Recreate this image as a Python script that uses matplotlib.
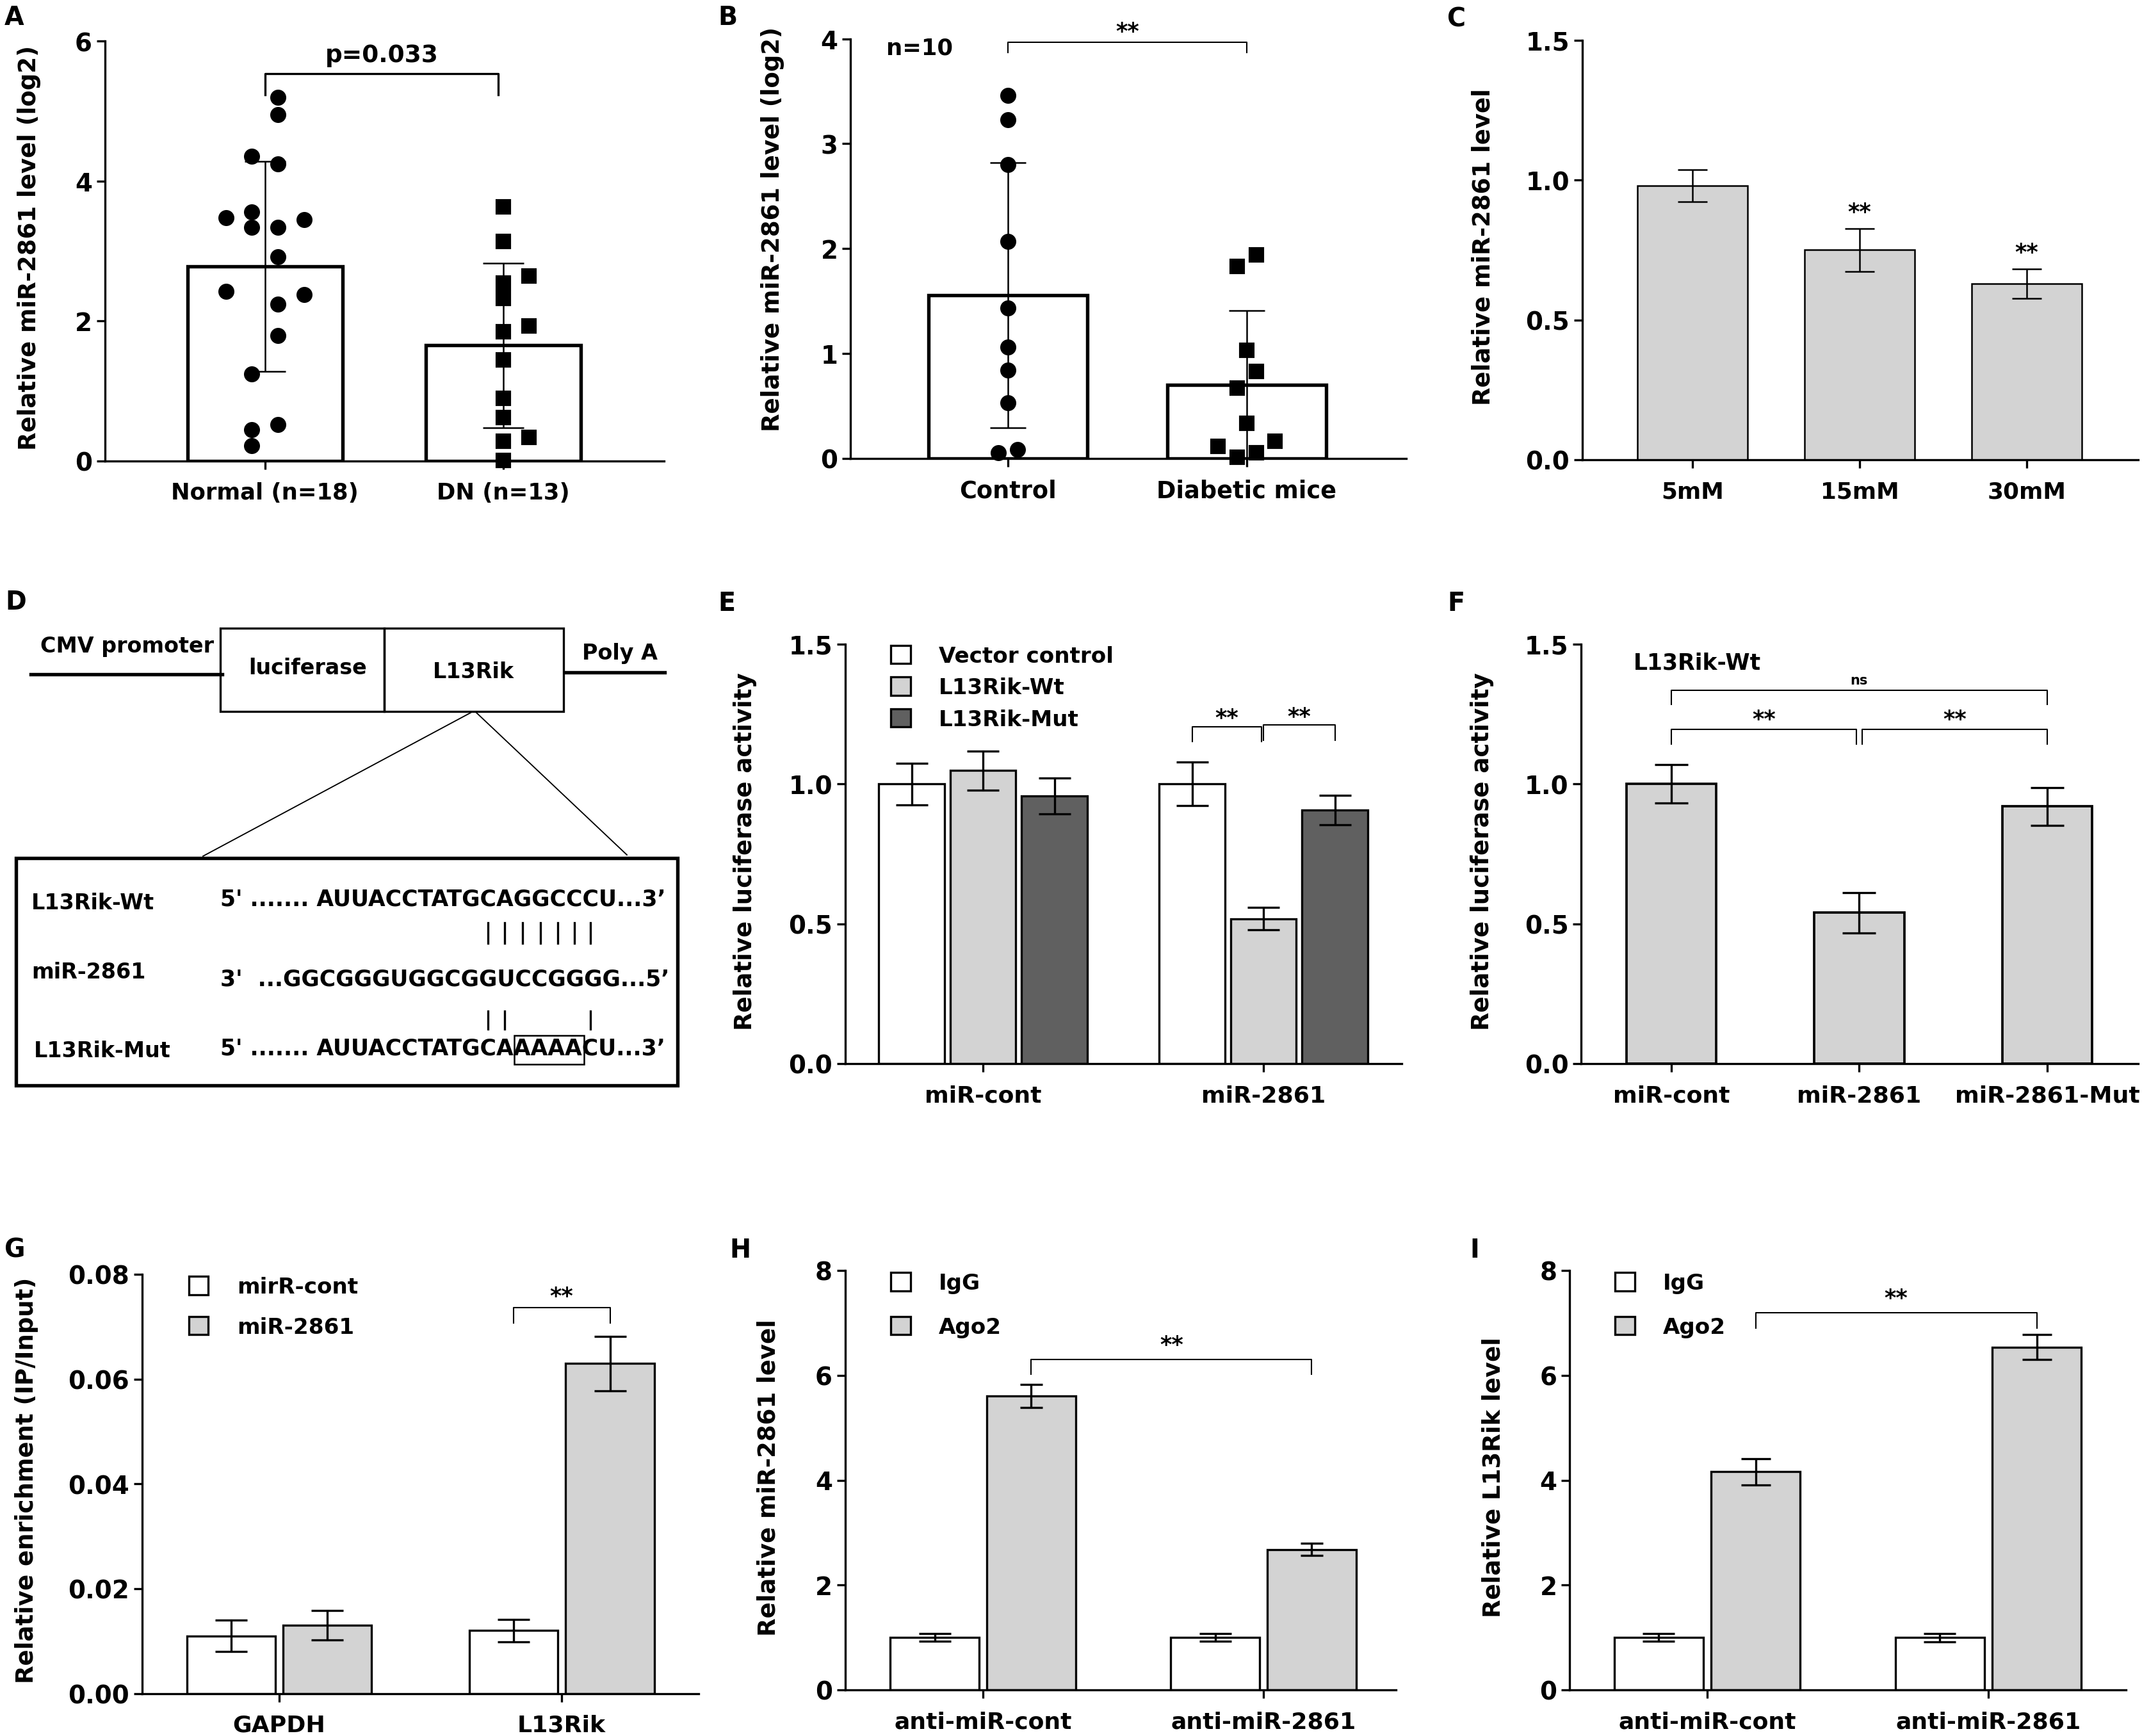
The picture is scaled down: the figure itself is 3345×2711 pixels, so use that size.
import matplotlib
matplotlib.use("Agg")
import matplotlib.pyplot as plt
from matplotlib.patches import Rectangle, Patch
from matplotlib.font_manager import FontProperties

plt.rcParams['font.family'] = ['DejaVu Sans']
plt.rcParams['font.weight'] = 'bold'
plt.rcParams['axes.labelweight'] = 'bold'

# ---------------- data ----------------
# A - patients
a_groups = ["Normal (n=18)", "DN (n=13)"]
a_mean = [2.78, 1.65]
a_sd = [1.50, 1.18]
a_normal = [5.20, 4.95, 4.36, 4.25, 3.48, 3.56, 3.45, 3.34, 3.34,
            2.92, 2.42, 2.38, 2.24, 1.79, 1.24, 0.45, 0.52, 0.22]
a_normal_jit = [0.055, 0.055, -0.055, 0.055, -0.164, -0.055, 0.164, -0.055, 0.055,
                0.055, -0.164, 0.164, 0.055, 0.055, -0.055, -0.055, 0.055, -0.055]
a_dn = [3.63, 3.14, 2.64, 2.54, 2.32, 1.93, 1.85, 1.44, 0.89, 0.62, 0.34, 0.28, 0.01]
a_dn_jit = [0, 0, 0.109, 0, 0, 0.109, 0, 0, 0, 0, 0.109, 0, 0]

# B - mice
b_groups = ["Control", "Diabetic mice"]
b_mean = [1.555, 0.70]
b_sd = [1.265, 0.71]
b_control = [3.46, 3.23, 2.80, 2.07, 1.43, 1.06, 0.84, 0.53, 0.05, 0.08]
b_control_jit = [0, 0, 0, 0, 0, 0, 0, 0, -0.041, 0.04]
b_diab = [1.94, 1.83, 1.03, 0.83, 0.67, 0.33, 0.16, 0.11, 0.05, 0.01]
b_diab_jit = [0.04, -0.041, 0, 0.04, -0.041, 0, 0.119, -0.12, 0.04, -0.041]

# C - glucose
c_groups = ["5mM", "15mM", "30mM"]
c_mean = [0.98, 0.75, 0.63]
c_sd = [0.058, 0.076, 0.052]

# E - luciferase
e_groups = ["miR-cont", "miR-2861"]
e_series = ["Vector control", "L13Rik-Wt", "L13Rik-Mut"]
e_vector = [1.0, 1.0]
e_vector_sd = [0.075, 0.078]
e_wt = [1.048, 0.518]
e_wt_sd = [0.07, 0.04]
e_mut = [0.958, 0.907]
e_mut_sd = [0.064, 0.053]

# F
f_groups = ["miR-cont", "miR-2861", "miR-2861-Mut"]
f_mean = [1.0, 0.54, 0.92]
f_sd = [0.069, 0.072, 0.068]

# G - RIP
g_groups = ["GAPDH", "L13Rik"]
g_series = ["mirR-cont", "miR-2861"]
g_cont = [0.011, 0.012]
g_cont_sd = [0.003, 0.0021]
g_mir = [0.013, 0.063]
g_mir_sd = [0.0028, 0.0052]

# H / I - Ago2
hi_groups = ["anti-miR-cont", "anti-miR-2861"]
hi_series = ["IgG", "Ago2"]
h_igg = [1.0, 1.0]
h_igg_sd = [0.075, 0.075]
h_ago = [5.61, 2.68]
h_ago_sd = [0.22, 0.12]
i_igg = [1.0, 1.0]
i_igg_sd = [0.076, 0.078]
i_ago = [4.16, 6.54]
i_ago_sd = [0.255, 0.235]

# D - construct
wt_label, mir_label, mut_label = "L13Rik-Wt", "miR-2861", "L13Rik-Mut"
wt_core = "AUUACCTATGCAGGCCCU"
mut_core = "AUUACCTATGCAAAAACU"
seq_head = "5' ....... "
seq_tail = "...3\u2019"
mir_seq = "3'  ...GGCGGGUGGCGGUCCGGGG...5\u2019"
wt_pairs = [10, 11, 12, 13, 14, 15, 16]
mut_pairs = [10, 11, 16]
mut_box = (12, 16)

LGRAY = '#d3d3d3'
DGRAY = '#606060'

W, H = 3345, 2712
fig = plt.figure(figsize=(W / 300, H / 300), dpi=300)

# overlay for panel D and panel letters (pixel coords, y down)
ov = fig.add_axes([0, 0, 1, 1])
ov.set_xlim(0, W)
ov.set_ylim(H, 0)
ov.axis('off')
ov.patch.set_visible(False)


def add_ax(x0, x1, ytop, ybot):
    return fig.add_axes([x0 / W, 1 - ybot / H, (x1 - x0) / W, (ybot - ytop) / H])


def style(ax, xlim, ylim, yticks, ylabel, lab_xy, fmt=None, xfs=8.7):
    ax.set_xlim(*xlim)
    ax.set_ylim(*ylim)
    ax.set_yticks(yticks)
    if fmt:
        ax.set_yticklabels([fmt % t for t in yticks])
    for s in ['top', 'right']:
        ax.spines[s].set_visible(False)
    for s in ['left', 'bottom']:
        ax.spines[s].set_linewidth(0.8)
    ax.tick_params(axis='both', width=0.8, length=3.2)
    ax.tick_params(axis='y', labelsize=9.3, pad=1.5)
    ax.tick_params(axis='x', labelsize=xfs, pad=4.5)
    ax.set_ylabel(ylabel, fontsize=8.9, fontweight='bold', va='center')
    ax.yaxis.set_label_coords(*lab_xy)


def bracket(ax, x0, x1, y, drop0, drop1, txt, ty, fs=8.5, lw=0.5):
    ax.plot([x0, x0, x1, x1], [y - drop0, y, y, y - drop1], color='k', lw=lw, clip_on=False)
    ax.text((x0 + x1) / 2, ty, txt, ha='center', va='center', fontsize=fs)


def errs(ax, x, y, e, cap, lw=0.7):
    ax.errorbar(x, y, yerr=e, fmt='none', ecolor='k', elinewidth=lw, capsize=cap,
                capthick=lw, zorder=3)


def legend(ax, x, y, spacing):
    ax.legend(loc='upper left', bbox_to_anchor=(x, y), frameon=False, fontsize=8.2,
              handlelength=0.9, handleheight=0.9, handletextpad=1.3, labelspacing=spacing,
              borderpad=0, borderaxespad=0)


# ---------------- A ----------------
ax = add_ax(163.5, 1037, 65.4, 720.7)
xa = list(range(len(a_groups)))
ax.bar(xa, a_mean, width=0.65, color='white', edgecolor='k', lw=1.3, zorder=2)
errs(ax, xa, a_mean, a_sd, 7.6, 0.6)
ax.plot([xa[0] + j for j in a_normal_jit], a_normal, 'o', color='k', ms=5, zorder=4, clip_on=False)
ax.plot([xa[1] + j for j in a_dn_jit], a_dn, 's', color='k', ms=4.6, zorder=4, clip_on=False)
ax.set_xticks(xa)
ax.set_xticklabels(a_groups)
style(ax, (-0.673, 1.675), (0, 6), [0, 2, 4, 6], "Relative miR-2861 level (log2)",
      (-0.135, 0.509), xfs=8.5)
bracket(ax, 0, 0.98, 5.537, 0.3, 0.3, "p=0.033", 5.80, fs=9, lw=0.8)

# ---------------- B ----------------
ax = add_ax(1328, 2196, 61.7, 716.5)
xb = list(range(len(b_groups)))
ax.bar(xb, b_mean, width=0.666, color='white', edgecolor='k', lw=1.3, zorder=2)
errs(ax, xb, b_mean, b_sd, 6.8, 0.6)
ax.plot([xb[0] + j for j in b_control_jit], b_control, 'o', color='k', ms=5, zorder=4, clip_on=False)
ax.plot([xb[1] + j for j in b_diab_jit], b_diab, 's', color='k', ms=4.6, zorder=4, clip_on=False)
ax.set_xticks(xb)
ax.set_xticklabels(b_groups)
style(ax, (-0.6595, 1.6676), (0, 4), [0, 1, 2, 3, 4], "Relative miR-2861 level (log2)",
      (-0.140, 0.5475), xfs=8.8)
bracket(ax, 0, 1, 3.968, 0.1, 0.1, "**", 4.07)
ax.text(-0.51, 3.914, "n=10", ha='left', va='center', fontsize=8.5)

# ---------------- C ----------------
ax = add_ax(2470.7, 3339, 63.8, 719)
xc = list(range(len(c_groups)))
ax.bar(xc, c_mean, width=0.661, color=LGRAY, edgecolor='k', lw=0.6, zorder=2)
errs(ax, xc, c_mean, c_sd, 5.6, 0.6)
for x, m, s in zip(xc[1:], c_mean[1:], c_sd[1:]):
    ax.text(x, m + s + 0.06, "**", ha='center', va='center', fontsize=8.5)
ax.set_xticks(xc)
ax.set_xticklabels(c_groups)
style(ax, (-0.660, 2.667), (0, 1.5), [0, 0.5, 1.0, 1.5], "Relative miR-2861 level",
      (-0.178, 0.509), fmt='%.1f', xfs=8.6)

# ---------------- E ----------------
ax = add_ax(1319.6, 2189, 1007, 1662)
xe = list(range(len(e_groups)))
step, bw = 0.2546, 0.234
for k, (vals, sds, col) in enumerate([(e_vector, e_vector_sd, 'white'),
                                      (e_wt, e_wt_sd, LGRAY),
                                      (e_mut, e_mut_sd, DGRAY)]):
    xs = [x + (k - 1) * step for x in xe]
    ax.bar(xs, vals, width=bw, color=col, edgecolor='k', lw=0.8, zorder=2, label=e_series[k])
    errs(ax, xs, vals, sds, 6.0, 0.8)
ax.set_xticks(xe)
ax.set_xticklabels(e_groups)
style(ax, (-0.4918, 1.493), (0, 1.5), [0, 0.5, 1.0, 1.5], "Relative luciferase activity",
      (-0.179, 0.508), fmt='%.1f')
legend(ax, 0.082, 0.997, 0.48)
bracket(ax, 1 - step, 1 - 0.007, 1.2057, 0.053, 0.053, "**", 1.236)
bracket(ax, 1.0, 1 + step, 1.212, 0.055, 0.055, "**", 1.241)

# ---------------- F ----------------
ax = add_ax(2469, 3339, 1007, 1662)
xf = list(range(len(f_groups)))
ax.bar(xf, f_mean, width=0.478, color=LGRAY, edgecolor='k', lw=0.9, zorder=2)
errs(ax, xf, f_mean, f_sd, 6.3, 0.8)
ax.set_xticks(xf)
ax.set_xticklabels(f_groups)
style(ax, (-0.480, 2.484), (0, 1.5), [0, 0.5, 1.0, 1.5], "Relative luciferase activity",
      (-0.178, 0.508), fmt='%.1f')
ax.text(-0.2, 1.434, "L13Rik-Wt", ha='left', va='center', fontsize=8.3)
bracket(ax, 0, 2, 1.3347, 0.05, 0.05, "ns", 1.372, fs=5)
bracket(ax, 0, 0.985, 1.1955, 0.053, 0.053, "**", 1.231)
bracket(ax, 1.015, 2.0, 1.1955, 0.053, 0.053, "**", 1.231)

# ---------------- G ----------------
ax = add_ax(221.7, 1091, 1991, 2645.5)
xg = list(range(len(g_groups)))
off, bw = 0.171, 0.313
ax.bar([x - off for x in xg], g_cont, width=bw, color='white', edgecolor='k', lw=0.8, zorder=2,
       label=g_series[0])
ax.bar([x + off for x in xg], g_mir, width=bw, color=LGRAY, edgecolor='k', lw=0.8, zorder=2,
       label=g_series[1])
errs(ax, [x - off for x in xg], g_cont, g_cont_sd, 6.0, 0.8)
errs(ax, [x + off for x in xg], g_mir, g_mir_sd, 6.0, 0.8)
ax.set_xticks(xg)
ax.set_xticklabels(g_groups)
style(ax, (-0.486, 1.485), (0, 0.08), [0, 0.02, 0.04, 0.06, 0.08],
      "Relative enrichment (IP/Input)", (-0.207, 0.5095), fmt='%.2f')
legend(ax, 0.0839, 0.995, 0.86)
bracket(ax, 1 - off, 1 + off, 0.0736, 0.0029, 0.0029, "**", 0.0758)


# ---------------- H / I ----------------
def ago_panel(rect, igg, igg_sd, ago, ago_sd, ylabel, labxy, xlim, legx, br_y, br_drop, st_y, ago_cap):
    ax = add_ax(*rect)
    x = list(range(len(hi_groups)))
    off, bw = 0.172, 0.317
    ax.bar([v - off for v in x], igg, width=bw, color='white', edgecolor='k', lw=0.8, zorder=2,
           label=hi_series[0])
    ax.bar([v + off for v in x], ago, width=bw, color=LGRAY, edgecolor='k', lw=0.8, zorder=2,
           label=hi_series[1])
    errs(ax, [v - off for v in x], igg, igg_sd, 6.0, 0.8)
    errs(ax, [v + off for v in x], ago, ago_sd, ago_cap, 0.8)
    ax.set_xticks(x)
    ax.set_xticklabels(hi_groups)
    style(ax, xlim, (0, 8), [0, 2, 4, 6, 8], ylabel, labxy)
    legend(ax, legx, 0.995, 1.04)
    bracket(ax, off, 1 + off, br_y, br_drop, br_drop, "**", st_y)
    return ax


ago_panel((1319.6, 2180, 1985, 2640), h_igg, h_igg_sd, h_ago, h_ago_sd,
          "Relative miR-2861 level", (-0.139, 0.508), (-0.492, 1.4726), 0.083,
          6.30, 0.28, 6.58, 4.2)
ago_panel((2451, 3320, 1985, 2640), i_igg, i_igg_sd, i_ago, i_ago_sd,
          "Relative L13Rik level", (-0.137, 0.508), (-0.4897, 1.4897), 0.0817,
          7.196, 0.30, 7.48, 5.6)

# ---------------- D (construct diagram) ----------------
ov.plot([48, 347], [1054, 1054], color='k', lw=1.3)
ov.plot([884, 1038], [1051, 1051], color='k', lw=1.3)
ov.add_patch(Rectangle((344, 982), 256, 130, fill=False, lw=0.8))
ov.add_patch(Rectangle((600, 982), 280, 130, fill=False, lw=0.8))
ov.plot([735, 317], [1114, 1338], color='k', lw=0.45)
ov.plot([744, 979], [1114, 1336], color='k', lw=0.45)
ov.add_patch(Rectangle((25, 1341), 1033, 355, fill=False, lw=1.3))
ov.text(198.5, 1010, "CMV promoter", ha='center', va='center', fontsize=8)
ov.text(968, 1021, "Poly A", ha='center', va='center', fontsize=8)
ov.text(481, 1044, "luciferase", ha='center', va='center', fontsize=8)
ov.text(739, 1050, "L13Rik", ha='center', va='center', fontsize=8)

seq_fs = 8.3
seq_x = 344
ov.text(49, 1411, wt_label, ha='left', va='center', fontsize=8)
ov.text(49, 1519, mir_label, ha='left', va='center', fontsize=8)
ov.text(53, 1642, mut_label, ha='left', va='center', fontsize=8)
ov.text(seq_x, 1405, seq_head + wt_core + seq_tail, ha='left', va='center', fontsize=seq_fs)
ov.text(seq_x, 1530, mir_seq, ha='left', va='center', fontsize=seq_fs)
ov.text(seq_x, 1638, seq_head + mut_core + seq_tail, ha='left', va='center', fontsize=seq_fs)

rend = fig.canvas.get_renderer()
prop = FontProperties(family='DejaVu Sans', weight='bold', size=seq_fs)


def tw(s):
    return rend.get_text_width_height_descent(s, prop, ismath=False)[0]


def char_right(core, i):
    return seq_x + tw(seq_head + core[:i + 1])


for i in wt_pairs:
    cx = char_right(wt_core, i) - tw(wt_core[i]) / 2
    ov.plot([cx, cx], [1442, 1474], color='k', lw=0.8)
for i in mut_pairs:
    cx = char_right(mut_core, i) - tw(mut_core[i]) / 2
    ov.plot([cx, cx], [1580, 1608], color='k', lw=0.8)
bx0 = char_right(mut_core, mut_box[0] - 1) + 1
bx1 = char_right(mut_core, mut_box[1] - 1) + 3
ov.add_patch(Rectangle((bx0, 1617.5), bx1 - bx0, 45.5, fill=False, lw=0.6))

# panel letters
for lab, x, y in [("A", 7, 8), ("B", 1121, 8), ("C", 2260, 10), ("D", 8, 921), ("E", 1121, 923),
                  ("F", 2260, 923), ("G", 7, 1933), ("H", 1139, 1933), ("I", 2295, 1933)]:
    ov.text(x, y, lab, ha='left', va='top', fontsize=9.5, fontweight='bold')

fig.savefig("out.png", dpi=300)
